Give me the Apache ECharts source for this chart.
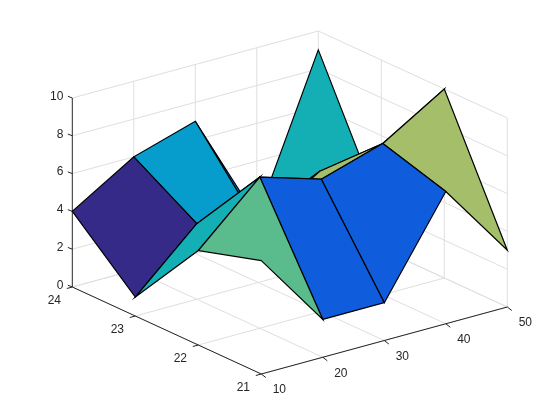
<!DOCTYPE html>
<html>
<head>
<meta charset="utf-8">
<style>html,body{margin:0;padding:0;background:#fff}#c{width:560px;height:420px}</style>
<script src="https://cdn.jsdelivr.net/npm/echarts@6/dist/echarts.min.js"></script>
</head>
<body>
<div id="c"></div>
<script>
// ---- data ----
const xValues = [10, 20, 30, 40, 50];
const yValues = [21, 22, 23, 24];
const zAt21 = [6, 2, 2, 7, 3];
const zAt22 = [5, 8, 7, 8, 10];
const zAt23 = [1, 4, 3, 5, 2];
const zAt24 = [4, 6, 7, 1, 9];
const zRows = [zAt21, zAt22, zAt23, zAt24];
const zTicks = [0, 2, 4, 6, 8, 10];
// parula colours of the height levels 1..10
const levelColors = ['#352A87', '#0F5CDD', '#1481D6', '#069DCC', '#14AFB4', '#5ABB8C', '#A5BE69', '#D1BB59', '#F5C53A', '#F9FB15'];

// ---- view (oblique projection of the MATLAB default view) ----
const view = { ox: 261.3, oy: 374, xDx: 246, xDy: -67, yDx: -189, yDy: -87, zDy: -189 };
const xMin = xValues[0], xMax = xValues[xValues.length - 1];
const yMin = yValues[0], yMax = yValues[yValues.length - 1];
const zMin = zTicks[0], zMax = zTicks[zTicks.length - 1];
function project(x, y, z) {
  const u = (x - xMin) / (xMax - xMin), v = (y - yMin) / (yMax - yMin), w = (z - zMin) / (zMax - zMin);
  return [view.ox + u * view.xDx + v * view.yDx, view.oy + u * view.xDy + v * view.yDy + w * view.zDy];
}

const gridColor = '#DFDFDF', axisColor = '#262626';

// ---- segments in data space ----
const gridSegs = [], axisSegs = [];
zTicks.forEach(z => {
  gridSegs.push([xMin, yMax, z, xMax, yMax, z]);
  gridSegs.push([xMax, yMax, z, xMax, yMin, z]);
});
xValues.forEach(x => {
  gridSegs.push([x, yMin, zMin, x, yMax, zMin]);
  if (x !== xMin) gridSegs.push([x, yMax, zMin, x, yMax, zMax]);
});
yValues.forEach(y => {
  gridSegs.push([xMin, y, zMin, xMax, y, zMin]);
  if (y !== yMax) gridSegs.push([xMax, y, zMin, xMax, y, zMax]);
});
axisSegs.push([xMin, yMax, zMin, xMin, yMax, zMax]);
axisSegs.push([xMin, yMin, zMin, xMax, yMin, zMin]);
axisSegs.push([xMin, yMin, zMin, xMin, yMax, zMin]);

// ---- faces, far to near ----
const faces = [];
for (let j = yValues.length - 2; j >= 0; j--) {
  for (let i = xValues.length - 2; i >= 0; i--) {
    faces.push([
      xValues[i], xValues[i + 1], yValues[j], yValues[j + 1],
      zRows[j][i], zRows[j][i + 1], zRows[j + 1][i + 1], zRows[j + 1][i]
    ]);
  }
}

// ---- ticks: [x, y, z, dx, dy, labelDx, labelDy, align, text] ----
const ticks = [];
xValues.forEach(x => ticks.push([x, yMin, zMin, 4.5, 3.5, 18, 16, 'center', String(x)]));
yValues.forEach(y => ticks.push([xMin, y, zMin, -5.5, 1.5, -18, 14, 'center', String(y)]));
zTicks.forEach(z => ticks.push([xMin, yMax, z, -4.5, -1.8, -9, -1.5, 'right', String(z)]));

function lineSeries(segs, color, z) {
  return {
    type: 'custom', coordinateSystem: 'cartesian2d', silent: true, clip: false, z: z,
    data: segs,
    renderItem: (p, api) => {
      const a = api.coord(project(api.value(0), api.value(1), api.value(2)));
      const b = api.coord(project(api.value(3), api.value(4), api.value(5)));
      return { type: 'line', shape: { x1: a[0], y1: a[1], x2: b[0], y2: b[1] }, style: { stroke: color, lineWidth: 1, fill: null } };
    }
  };
}

const option = {
  animation: false,
  backgroundColor: '#fff',
  grid: { left: 0, right: 0, top: 0, bottom: 0 },
  xAxis: { type: 'value', min: 0, max: 560, show: false },
  yAxis: { type: 'value', min: 0, max: 420, inverse: true, show: false },
  series: [
    lineSeries(gridSegs, gridColor, 1),
    lineSeries(axisSegs, axisColor, 2),
    {
      type: 'custom', coordinateSystem: 'cartesian2d', silent: true, clip: false, z: 3,
      data: ticks,
      renderItem: (p, api) => {
        const d = ticks[p.dataIndex];
        const a = api.coord(project(d[0], d[1], d[2]));
        return {
          type: 'group',
          children: [
            { type: 'line', shape: { x1: a[0], y1: a[1], x2: a[0] + d[3], y2: a[1] + d[4] }, style: { stroke: axisColor, lineWidth: 1, fill: null } },
            { type: 'text', x: a[0] + d[5], y: a[1] + d[6],
              style: { text: d[8], fill: axisColor, font: '12px "Liberation Sans", Arial, sans-serif', textAlign: d[7], textVerticalAlign: 'middle' } }
          ]
        };
      }
    },
    {
      type: 'custom', coordinateSystem: 'cartesian2d', silent: true, clip: false, z: 4,
      data: faces,
      renderItem: (p, api) => {
        const x0 = api.value(0), x1 = api.value(1), y0 = api.value(2), y1 = api.value(3);
        const z00 = api.value(4), z10 = api.value(5), z11 = api.value(6), z01 = api.value(7);
        const pts = [project(x0, y0, z00), project(x1, y0, z10), project(x1, y1, z11), project(x0, y1, z01)].map(q => api.coord(q));
        return { type: 'polygon', shape: { points: pts }, style: { fill: levelColors[z00 - 1], stroke: '#000', lineWidth: 1.2, lineJoin: 'miter' } };
      }
    }
  ]
};
const chart = echarts.init(document.getElementById('c'), null, { renderer: 'canvas' });
chart.setOption(option);
</script>
</body>
</html>
